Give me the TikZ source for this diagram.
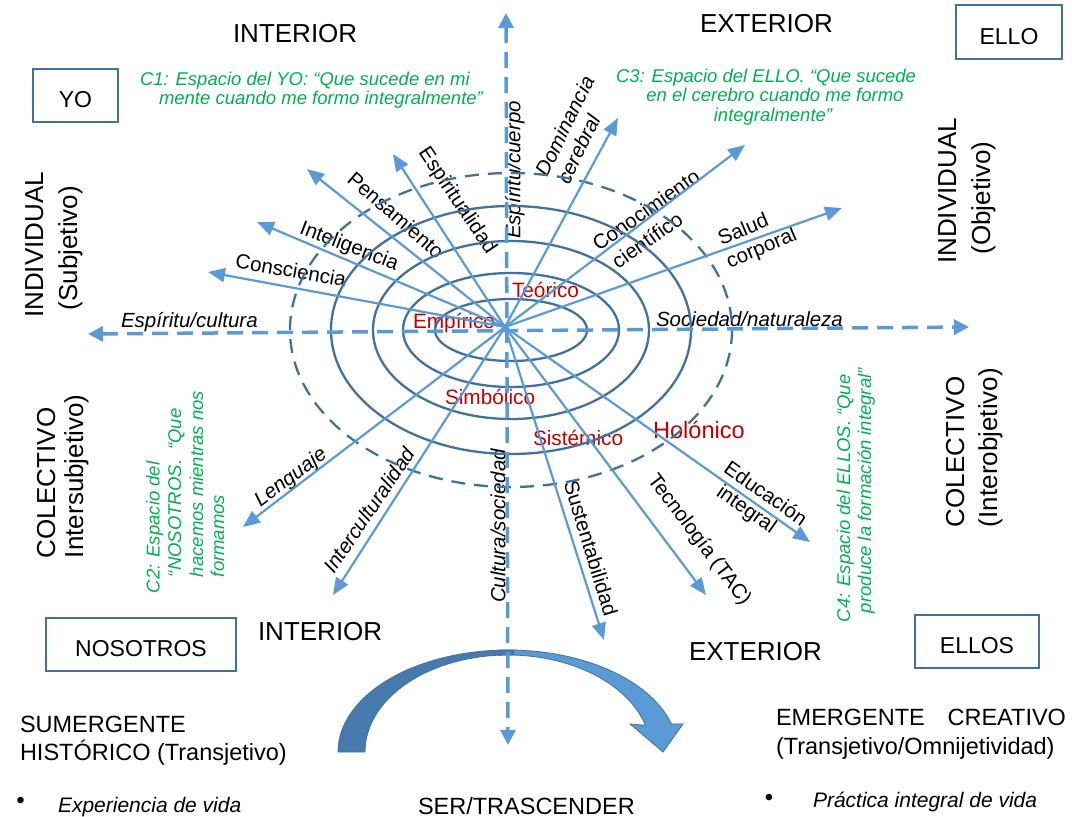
\documentclass[tikz,border=0pt]{standalone}
\usepackage{fontspec}
\setmainfont{Liberation Sans}
\usetikzlibrary{arrows.meta}
\definecolor{rayblue}{RGB}{91,155,213}
\definecolor{ringblue}{RGB}{65,113,156}
\definecolor{arrowdark}{RGB}{70,122,172}
\definecolor{lblred}{RGB}{192,0,0}
\definecolor{notegreen}{RGB}{0,176,80}
\newcommand{\fsz}[1]{\fontsize{#1}{#1}\selectfont}
\tikzset{
  txt/.style={inner sep=0pt, outer sep=0pt},
  raylbl/.style={txt, font=\fsz{20.5}},
  raylbli/.style={txt, font=\fsz{20.5}\itshape},
  ringline/.style={draw=ringblue, line width=2.3pt},
  ringdash/.style={ringline, dash pattern=on 14pt off 9pt},
  rayarrow/.style={draw=rayblue, line width=2.2pt, -{Triangle[length=17pt,width=14pt]}},
  axisline/.style={draw=rayblue, line width=3.5pt, dash pattern=on 16pt off 9pt,
    {Triangle[length=15pt,width=15pt]}-{Triangle[length=15pt,width=15pt]}},
  lvltxt/.style={txt, text=lblred, font=\fsz{20.8}, anchor=base west},
  notetxt/.style={txt, text=notegreen, font=\fsz{18.5}\itshape},
  sidetxt/.style={txt, font=\fsz{26}},
  quadbox/.style={draw=ringblue, line width=2.3pt, font=\fsz{23}, inner sep=0pt,
    text height=24pt, text depth=0pt},
  foottxt/.style={txt, font=\fsz{23.5}, anchor=base west},
}
\begin{document}
\begin{tikzpicture}[x=1pt,y=-1pt]
\useasboundingbox (0,0) rectangle (1072,817);

% ---- level names inside the rings ----
\node[lvltxt] (teo) at (512,297) {Teórico};
\node[lvltxt] (emp) at (413,328) {Empírico};
\node[lvltxt] (sim) at (445,404) {Simbólico};
\node[lvltxt] (sis) at (533,445) {Sistémico};
\node[lvltxt, font=\fsz{23.6}] (hol) at (653,438) {Holónico};

% ---- labels along the rays ----
\node[raylbl, rotate=-10] (l-consc) at (291,270) {Consciencia};
\node[raylbl, rotate=-21] (l-intel) at (349,247) {Inteligencia};
\node[raylbl, rotate=-41] (l-pens) at (396,215) {Pensamiento};
\node[raylbl, rotate=-56] (l-espir) at (457,201) {Espiritualidad};
\node[raylbli, rotate=90] (l-cuerpo) at (515,170) {Espíritu/cuerpo};
\node[raylbli, rotate=64] (l-domin) at (565,126) {Dominancia};
\node[raylbli, rotate=64] (l-cereb) at (579,149) {cerebral};
\node[raylbl, rotate=35] (l-conoc) at (646,210) {Conocimiento};
\node[raylbl, rotate=35] (l-cient) at (647,240) {científico};
\node[raylbl, rotate=23] (l-salud) at (743,229) {Salud};
\node[raylbl, rotate=23] (l-corp) at (762,249) {corporal};
\node[raylbli, anchor=base west] (l-socnat) at (656,326) {Sociedad/naturaleza};
\node[raylbli, anchor=base west] (l-espcult) at (121,327) {Espíritu/cultura};
\node[raylbli, rotate=37] (l-leng) at (291,478) {Lenguaje};
\node[raylbli, rotate=56] (l-inter) at (369,510) {Interculturalidad};
\node[raylbli, rotate=90] (l-cultsoc) at (498,526) {Cultura/sociedad};
\node[raylbl, rotate=-73] (l-sust) at (591,548) {Sustentabilidad};
\node[raylbl, rotate=-53] (l-tec) at (699,540) {Tecnología (TAC)};
\node[raylbl, rotate=-35] (l-educ) at (766,493) {Educación};
\node[raylbl, rotate=-35] (l-integ) at (746,510) {integral};

% ---- quadrant headings ----
\node[sidetxt, anchor=base west] (int-top) at (233,42) {INTERIOR};
\node[sidetxt, anchor=base west] (ext-top) at (700,32) {EXTERIOR};
\node[sidetxt, anchor=base west] (int-bot) at (258,640) {INTERIOR};
\node[sidetxt, anchor=base west] (ext-bot) at (689,660) {EXTERIOR};
\node[sidetxt, rotate=90, anchor=base] (ind-l1) at (43,245) {INDIVIDUAL};
\node[sidetxt, rotate=90, anchor=base] (ind-l2) at (77,248) {(Subjetivo)};
\node[sidetxt, rotate=90, anchor=base] (ind-r1) at (956,191) {INDIVIDUAL};
\node[sidetxt, rotate=90, anchor=base] (ind-r2) at (990,198) {(Objetivo)};
\node[sidetxt, rotate=90, anchor=base west] (col-l1) at (55,558) {COLECTIVO};
\node[sidetxt, rotate=90, anchor=base west] (col-l2) at (83,558) {Intersubjetivo)};
\node[sidetxt, rotate=90, anchor=base west] (col-r1) at (964,527) {COLECTIVO};
\node[sidetxt, rotate=90, anchor=base west] (col-r2) at (997,527) {(Interobjetivo)};

% ---- quadrant boxes ----
\node[quadbox, minimum width=85pt, minimum height=53pt] (yo) at (75.5,95.5) {YO};
\node[quadbox, minimum width=106pt, minimum height=54pt] (ello) at (1009,32) {ELLO};
\node[quadbox, minimum width=190pt, minimum height=53pt] (nosotros) at (141,644.5) {NOSOTROS};
\node[quadbox, minimum width=124pt, minimum height=53pt] (ellos) at (977,641.5) {ELLOS};

% ---- green notes ----
\node[notetxt, anchor=base west] (c1a) at (140,85.5) {C1: Espacio del YO: “Que sucede en mi};
\node[notetxt, anchor=base west] (c1b) at (159,104) {mente cuando me formo integralmente”};
\node[notetxt, anchor=base] (c3a) at (766,82) {C3: Espacio del ELLO. “Que sucede};
\node[notetxt, anchor=base] (c3b) at (775,101) {en el cerebro cuando me formo};
\node[notetxt, anchor=base] (c3c) at (773,121) {integralmente”};
\node[notetxt, rotate=90, anchor=base west] (c2a) at (159.5,593) {C2: Espacio del};
\node[notetxt, rotate=90, anchor=base west] (c2b) at (181,577) {“NOSOTROS.\ \ “Que};
\node[notetxt, rotate=90, anchor=base west] (c2c) at (203,577) {hacemos mientras nos};
\node[notetxt, rotate=90, anchor=base west] (c2d) at (224,577) {formamos};
\node[notetxt, rotate=90, anchor=base west] (c4a) at (850,622) {C4: Espacio del ELLOS. “Que};
\node[notetxt, rotate=90, anchor=base west] (c4b) at (871,613) {produce la formación integral”};

% ---- bottom texts ----
\node[foottxt] (sum1) at (20,732) {SUMERGENTE};
\node[foottxt] (sum2) at (20,760) {HISTÓRICO (Transjetivo)};
\node[foottxt] (em1) at (776,725) {EMERGENTE};
\node[foottxt, anchor=base east] (em2) at (1066,725) {CREATIVO};
\node[foottxt] (em3) at (776,754) {(Transjetivo/Omnijetividad)};
\node[txt, font=\fsz{24}] (bul1) at (20.5,803) {\textbullet};
\node[foottxt, font=\fsz{21}\itshape] (exp) at (58,812) {Experiencia de vida};
\node[foottxt] (ser) at (418,814) {SER/TRASCENDER};
\node[txt, font=\fsz{24}] (bul2) at (769,800) {\textbullet};
\node[foottxt, font=\fsz{21}\itshape] (prac) at (813,807) {Práctica integral de vida};

% ---- curved block arrow (light back part, then dark front part) ----
\fill[rayblue, draw=ringblue, line width=0.8pt]
  ({508+170*cos(266)},{752+102*sin(266)})
  arc[start angle=266, end angle=344, x radius=170, y radius=102]
  -- (683,724) -- (663,752) -- (630,724)
  -- ({508+143*cos(344)},{752+97*sin(344)})
  arc[start angle=344, end angle=266, x radius=143, y radius=97] -- cycle;
\fill[arrowdark, draw=ringblue, line width=0.8pt]
  (338,752)
  arc[start angle=180, end angle=272, x radius=170, y radius=102]
  -- ({508+143*cos(272)},{752+97*sin(272)})
  arc[start angle=272, end angle=180, x radius=143, y radius=97] -- cycle;

% ---- concentric rings ----
\draw[ringline] (511,330) ellipse [x radius=76, y radius=31];
\draw[ringline] (511,330) ellipse [x radius=108, y radius=57];
\draw[ringline] (511,330) ellipse [x radius=138, y radius=89];
\draw[ringline] (511,330) ellipse [x radius=180, y radius=124];
\draw[ringdash] (511,330) ellipse [x radius=221, y radius=157];

% ---- rays from the centre ----
\coordinate (o) at (505,327);
\coordinate (t-consc) at (208,272);
\coordinate (t-intel) at (257,222);
\coordinate (t-pens) at (307,169);
\coordinate (t-espir) at (393,154);
\coordinate (t-domin) at (618,118);
\coordinate (t-conoc) at (745,145);
\coordinate (t-salud) at (842,208);
\coordinate (t-leng) at (243,527);
\coordinate (t-inter) at (333,595);
\coordinate (t-sust) at (604,640);
\coordinate (t-tec) at (706,595);
\coordinate (t-educ) at (810,542);
\foreach \t in {consc,intel,pens,espir,domin,conoc,salud,leng,inter,sust,tec,educ}
  \draw[rayarrow] (o) -- (t-\t);

% ---- main dashed axes ----
\coordinate (axL) at (88,334);
\coordinate (axR) at (969,327);
\coordinate (axT) at (506,13);
\coordinate (axB) at (508,745);
\draw[axisline] (axL) -- (axR);
\draw[axisline] (axT) -- (axB);
\end{tikzpicture}
\end{document}
